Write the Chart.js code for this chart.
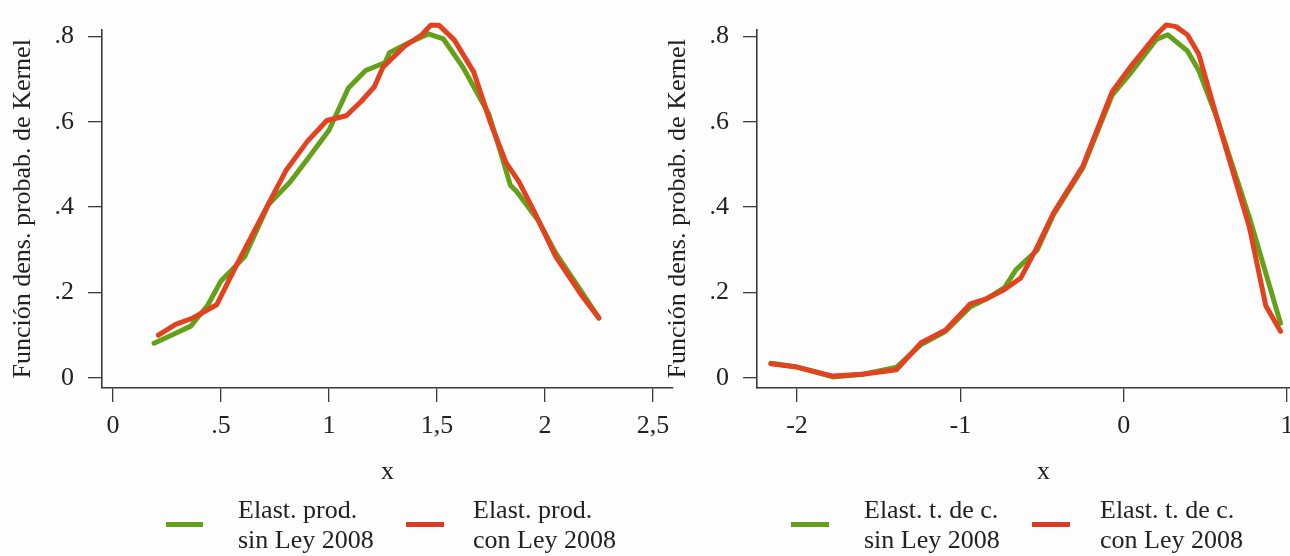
<!DOCTYPE html>
<html lang="es">
<head>
<meta charset="UTF-8">
<script src="https://cdn.jsdelivr.net/npm/chart.js"></script>
<title>Densidad de Kernel</title>
<style>
  html, body { margin: 0; padding: 0; background: #fdfdfd; overflow: hidden; }
  body { width: 1290px; height: 556px; position: relative; font-family: "Liberation Serif", serif; color: #222; }
  canvas { position: absolute; top: 0; }
  .sw { position: absolute; height: 5px; }
  .lt { position: absolute; font-size: 26px; line-height: 30px; white-space: nowrap; }
</style>
</head>
<body>
<canvas id="prod-chart" width="690" height="556" style="left:0"></canvas>
<canvas id="tc-chart" width="695" height="556" style="left:655px"></canvas>

<div class="sw" style="left:166px;top:522px;width:37px;background:#64a01a"></div>
<div class="lt" style="left:238px;top:495px">Elast. prod.<br>sin Ley 2008</div>
<div class="sw" style="left:406px;top:522px;width:38px;background:#dd3a24"></div>
<div class="lt" style="left:473px;top:495px">Elast. prod.<br>con Ley 2008</div>

<div class="sw" style="left:791px;top:522px;width:38px;background:#64a01a"></div>
<div class="lt" style="left:864px;top:495px">Elast. t. de c.<br>sin Ley 2008</div>
<div class="sw" style="left:1032px;top:522px;width:38px;background:#dd3a24"></div>
<div class="lt" style="left:1100px;top:495px">Elast. t. de c.<br>con Ley 2008</div>

<script>
// Elasticidad de producción
var prodSinX = [0.19, 0.28, 0.36, 0.44, 0.50, 0.56, 0.61, 0.72, 0.82, 0.90, 1.00, 1.09, 1.17, 1.26, 1.28, 1.37, 1.46, 1.53, 1.62, 1.74, 1.80, 1.84, 1.87, 1.97, 2.05, 2.17, 2.25];
var prodSinY = [0.081, 0.102, 0.121, 0.171, 0.227, 0.258, 0.284, 0.406, 0.459, 0.512, 0.580, 0.679, 0.720, 0.739, 0.762, 0.785, 0.806, 0.794, 0.728, 0.618, 0.520, 0.451, 0.436, 0.368, 0.292, 0.201, 0.140];
var prodConX = [0.21, 0.29, 0.37, 0.48, 0.57, 0.71, 0.80, 0.90, 0.99, 1.08, 1.15, 1.21, 1.25, 1.35, 1.43, 1.47, 1.51, 1.58, 1.67, 1.75, 1.82, 1.88, 1.95, 2.05, 2.17, 2.25];
var prodConY = [0.100, 0.125, 0.140, 0.171, 0.262, 0.398, 0.485, 0.554, 0.603, 0.614, 0.648, 0.682, 0.728, 0.777, 0.804, 0.826, 0.826, 0.792, 0.717, 0.595, 0.504, 0.459, 0.390, 0.284, 0.193, 0.140];

// Elasticidad tipo de cambio
var tcSinX = [-2.16, -2.00, -1.78, -1.60, -1.39, -1.24, -1.09, -0.94, -0.84, -0.73, -0.66, -0.53, -0.43, -0.25, -0.07, 0.04, 0.20, 0.27, 0.39, 0.46, 0.57, 0.77, 0.96];
var tcSinY = [0.034, 0.025, 0.002, 0.008, 0.025, 0.078, 0.109, 0.166, 0.185, 0.211, 0.253, 0.299, 0.382, 0.492, 0.663, 0.713, 0.793, 0.804, 0.766, 0.720, 0.610, 0.375, 0.128];
var tcConX = [-2.16, -2.00, -1.78, -1.60, -1.39, -1.24, -1.09, -0.94, -0.84, -0.73, -0.63, -0.53, -0.43, -0.25, -0.07, 0.04, 0.20, 0.26, 0.32, 0.39, 0.46, 0.57, 0.77, 0.87, 0.96];
var tcConY = [0.033, 0.025, 0.004, 0.008, 0.019, 0.082, 0.112, 0.173, 0.185, 0.207, 0.234, 0.306, 0.386, 0.496, 0.671, 0.728, 0.804, 0.827, 0.823, 0.804, 0.758, 0.610, 0.352, 0.169, 0.109];

var yTicks = [0, 0.2, 0.4, 0.6, 0.8];
var yTickLabels = ['0', '.2', '.4', '.6', '.8'];
var prodXTicks = [0, 0.5, 1, 1.5, 2, 2.5];
var prodXTickLabels = ['0', '.5', '1', '1,5', '2', '2,5'];
var tcXTicks = [-2, -1, 0, 1];
var tcXTickLabels = ['-2', '-1', '0', '1'];

var yTitle = 'Función dens. probab. de Kernel';
var green = '#64a01a';
var red = '#e2421f';
var axisColor = '#3a3a3a';
var font = { family: '"Liberation Serif", serif', size: 26 };

function points(xs, ys) {
  return xs.map(function (x, i) { return { x: x, y: ys[i] }; });
}

function lineSet(label, xs, ys, color) {
  return {
    label: label,
    data: points(xs, ys),
    borderColor: color,
    borderWidth: 5,
    pointRadius: 0,
    tension: 0,
    fill: false,
    clip: false,
    borderJoinStyle: 'round',
    borderCapStyle: 'round'
  };
}

function makeConfig(datasets, xMin, xMax, xTicks, xLabels, padRight) {
  return {
    type: 'line',
    data: { datasets: datasets },
    options: {
      responsive: false,
      animation: false,
      layout: { padding: { left: 0, top: 19, right: padRight, bottom: 66 } },
      plugins: { legend: { display: false }, tooltip: { enabled: false } },
      scales: {
        x: {
          type: 'linear',
          min: xMin,
          max: xMax,
          afterBuildTicks: function (s) { s.ticks = xTicks.map(function (v) { return { value: v }; }); },
          afterFit: function (s) { s.height = 102; },
          grid: { drawOnChartArea: false, drawTicks: true, tickLength: 14, color: axisColor, lineWidth: 1.3 },
          border: { display: true, color: axisColor, width: 1.6 },
          ticks: {
            font: font, color: '#222', padding: 9, maxRotation: 0, autoSkip: false,
            callback: function (v) { return xLabels[xTicks.indexOf(v)]; }
          },
          title: { display: true, text: 'x', font: font, color: '#222', padding: { top: 0, bottom: 2 } }
        },
        y: {
          min: -0.024,
          max: 0.816,
          afterBuildTicks: function (s) { s.ticks = yTicks.map(function (v) { return { value: v }; }); },
          afterFit: function (s) { s.width = 102; },
          grid: { drawOnChartArea: false, drawTicks: true, tickLength: 14, color: axisColor, lineWidth: 1.3 },
          border: { display: true, color: axisColor, width: 1.6 },
          ticks: {
            font: font, color: '#222', padding: 14,
            callback: function (v) { return yTickLabels[yTicks.indexOf(v)]; }
          },
          title: { display: true, text: yTitle, font: font, color: '#222', padding: { top: 8, bottom: 0 } }
        }
      }
    }
  };
}

new Chart(document.getElementById('prod-chart').getContext('2d'), makeConfig([
  lineSet('Elast. prod. con Ley 2008', prodConX, prodConY, red),
  lineSet('Elast. prod. sin Ley 2008', prodSinX, prodSinY, green)
], -0.051, 2.593, prodXTicks, prodXTickLabels, 17));

new Chart(document.getElementById('tc-chart').getContext('2d'), makeConfig([
  lineSet('Elast. t. de c. con Ley 2008', tcConX, tcConY, red),
  lineSet('Elast. t. de c. sin Ley 2008', tcSinX, tcSinY, green)
], -2.245, 1.263, tcXTicks, tcXTickLabels, 20));
</script>
</body>
</html>
